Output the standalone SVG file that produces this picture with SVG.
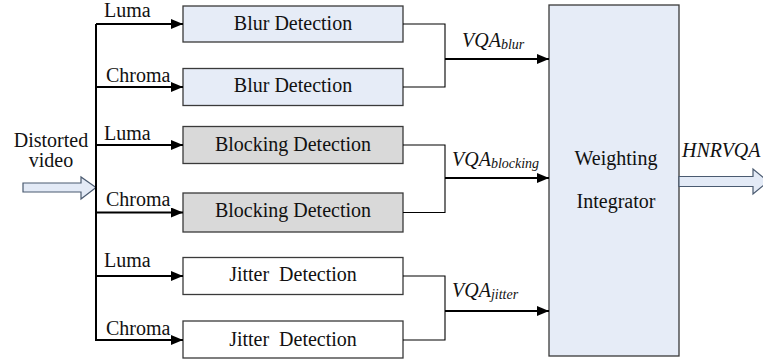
<svg xmlns="http://www.w3.org/2000/svg" width="763" height="361" viewBox="0 0 763 361">
<defs>
<marker id="ah" markerWidth="12" markerHeight="10" refX="12" refY="5" orient="auto" markerUnits="userSpaceOnUse">
<path d="M0,0 L12,5 L0,10 Z" fill="#000"/>
</marker>
<style>
text{font-family:"Liberation Serif","Times New Roman",Times,"Noto Serif","DejaVu Serif",FreeSerif,Tinos,serif;font-size:20px;fill:#111;}
.box{stroke:#3a3a3a;stroke-width:1.3;}
.blue{fill:#e6ecf7;}
.gray{fill:#d9d9d9;}
.white{fill:#fff;}
.c{text-anchor:middle;}
.it{font-style:italic;}
.sub{font-size:14px;font-style:italic;}
.bus{stroke:#000;stroke-width:2;fill:none;}
.thin{stroke:#000;stroke-width:1.1;fill:none;}
.arr{stroke:#000;stroke-width:1.8;fill:none;marker-end:url(#ah);}
.hollow{fill:#e3eaf6;stroke:#4a5a70;stroke-width:1.2;}
</style>
</defs>

<g id="input">
<path class="hollow" d="M23,183 L81,183 L81,177 L96,187.5 L81,199 L81,192 L23,192 Z"/>
<text class="c" x="51" y="147">Distorted</text>
<text class="c" x="51" y="167">video</text>
</g>

<g id="blur1"><rect class="box blue" x="183" y="6" width="220" height="36"/><text class="c" x="293" y="30">Blur Detection</text></g>
<g id="blur2"><rect class="box blue" x="183" y="68.5" width="220" height="37"/><text class="c" x="293" y="92">Blur Detection</text></g>
<g id="block1"><rect class="box gray" x="183" y="126.5" width="220" height="37"/><text class="c" x="293" y="151">Blocking Detection</text></g>
<g id="block2"><rect class="box gray" x="183" y="193" width="220" height="39"/><text class="c" x="293" y="217">Blocking Detection</text></g>
<g id="jitter1"><rect class="box white" x="183" y="257.5" width="220" height="37"/><text class="c" x="293" y="281" xml:space="preserve">Jitter  Detection</text></g>
<g id="jitter2"><rect class="box white" x="183" y="321" width="220" height="37"/><text class="c" x="293" y="346" xml:space="preserve">Jitter  Detection</text></g>

<g id="integrator">
<rect class="box blue" x="549" y="5" width="130" height="351"/>
<text class="c" x="616" y="165">Weighting</text>
<text class="c" x="616" y="208">Integrator</text>
</g>

<g id="output">
<path class="hollow" d="M679,176.5 L753,176.5 L753,169 L768,181.5 L753,194 L753,186.5 L679,186.5 Z"/>
<text class="it" x="682" y="157">HNRVQA</text>
</g>

<g id="connectors">
<path class="bus" d="M96,24 L96,341"/>
<path class="arr" d="M96,24 L183,24"/>
<path class="arr" d="M96,87 L183,87"/>
<path class="arr" d="M96,145 L183,145"/>
<path class="arr" d="M96,212.5 L183,212.5"/>
<path class="arr" d="M96,276 L183,276"/>
<path class="arr" d="M96,340 L183,340"/>

<path class="thin" d="M403,24 L445,24 L445,87 L403,87"/>
<path class="arr" d="M445,59 L549,59"/>
<path class="thin" d="M403,145 L445,145 L445,212.5 L403,212.5"/>
<path class="arr" d="M445,178 L549,178"/>
<path class="thin" d="M403,276 L445,276 L445,340 L403,340"/>
<path class="arr" d="M445,311 L549,311"/>

<text x="104" y="17">Luma</text>
<text x="106" y="82">Chroma</text>
<text x="104" y="140">Luma</text>
<text x="106" y="206">Chroma</text>
<text x="104" y="267">Luma</text>
<text x="106" y="335">Chroma</text>

<text class="it" x="462" y="47">VQA<tspan class="sub" dy="2">blur</tspan></text>
<text class="it" x="452" y="166">VQA<tspan class="sub" dy="2">blocking</tspan></text>
<text class="it" x="452" y="297">VQA<tspan class="sub" dy="2">jitter</tspan></text>
</g>
</svg>
